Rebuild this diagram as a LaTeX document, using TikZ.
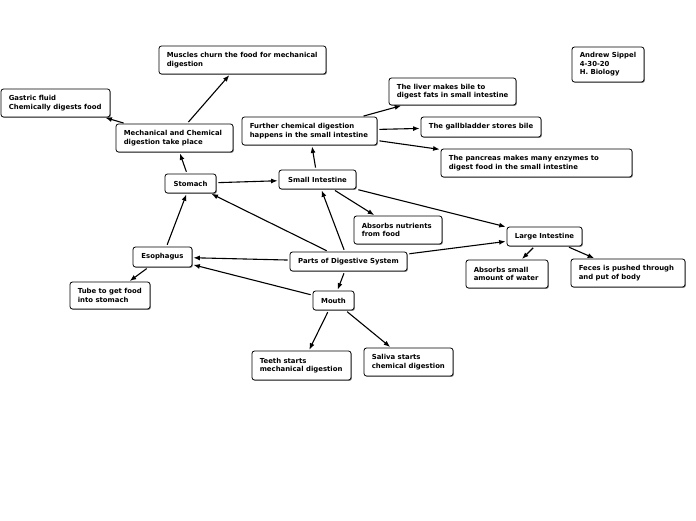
\documentclass[tikz,border=0pt]{standalone}
\usepackage{fontspec}
\setmainfont{DejaVu Sans}
\usetikzlibrary{arrows.meta,shadows}
\tikzset{
  box/.style={draw=black, line width=0.8pt, rounded corners=2.5pt, fill=white,
    inner sep=0pt,
    drop shadow={shadow xshift=0.9pt, shadow yshift=-0.9pt, fill=black!45, opacity=1}},
  label/.style={inner sep=0pt, font=\bfseries\fontsize{6.9}{8.5}\selectfont},
  conn/.style={line width=1.1pt, -{Latex[length=6.5pt,width=5pt]}, shorten >=1pt, shorten <=2pt}
}
% left-aligned box: name, x1, y1, x2, y2, text
\newcommand\lbox[6]{%
  \pgfmathsetmacro\bh{#5-#3}%
  \pgfmathsetmacro\bw{#4-#2}%
  \node[box, minimum height=\bh pt, minimum width=\bw pt] (#1) at ({(#2+#4)/2},{(#3+#5)/2}) {};
  \node[label, align=left, anchor=west] (#1t) at ([xshift=8pt]#1.west) {#6};}
% centred box
\newcommand\cbox[6]{%
  \pgfmathsetmacro\bh{#5-#3}%
  \pgfmathsetmacro\bw{#4-#2}%
  \node[box, minimum height=\bh pt, minimum width=\bw pt] (#1) at ({(#2+#4)/2},{(#3+#5)/2}) {};
  \node[label, align=center] (#1t) at (#1.center) {#6};}
\begin{document}
\begin{tikzpicture}[x=1pt,y=-1pt]
\useasboundingbox (0,0) rectangle (696,520);
\lbox{muscles}{159}{46}{326}{74}{Muscles churn the food for mechanical\\digestion}
\lbox{gastric}{1}{89}{110}{117}{Gastric fluid\\Chemically digests food}
\lbox{mech}{116}{124}{233}{152}{Mechanical and Chemical\\digestion take place}
\cbox{stomach}{165}{174}{216}{193}{Stomach}
\cbox{small}{279}{170}{356}{189}{Small Intestine}
\lbox{further}{242}{117}{377}{145}{Further chemical digestion\\happens in the small intestine}
\lbox{liver}{389}{78}{516}{105}{The liver makes bile to\\digest fats in small intestine}
\lbox{gall}{421}{117}{541}{137}{The gallbladder stores bile}
\lbox{pancreas}{441}{149}{632}{177}{The pancreas makes many enzymes to\\digest food in the small intestine}
\lbox{nutrients}{354}{216}{442}{244}{Absorbs nutrients\\from food}
\cbox{esoph}{133}{247}{192}{267}{Esophagus}
\cbox{parts}{290}{252}{407}{271}{Parts of Digestive System}
\cbox{large}{507}{227}{582}{246}{Large Intestine}
\lbox{water}{466}{260}{548}{288}{Absorbs small\\amount of water}
\lbox{feces}{571}{259}{685}{287}{Feces is pushed through\\and put of body}
\lbox{tube}{70}{282}{150}{309}{Tube to get food\\into stomach}
\cbox{mouth}{313}{291}{354}{310}{Mouth}
\lbox{teeth}{252}{351}{351}{380}{Teeth starts\\mechanical digestion}
\lbox{saliva}{364}{348}{453}{376}{Saliva starts\\chemical digestion}
\lbox{author}{572}{47}{644}{82}{Andrew Sippel\\4-30-20\\H. Biology}

\draw[conn] (mech) -- (muscles);
\draw[conn] (mech) -- (gastric);
\draw[conn] (stomach) -- (mech);
\draw[conn] (stomach) -- (small);
\draw[conn] (small) -- (further);
\draw[conn] (further) -- (liver);
\draw[conn] (further) -- (gall);
\draw[conn] (further) -- (pancreas);
\draw[conn] (small) -- (nutrients);
\draw[conn] (small) -- (large);
\draw[conn] (esoph) -- (stomach);
\draw[conn] (esoph) -- (tube);
\draw[conn] (parts) -- (stomach);
\draw[conn] (parts) -- (small);
\draw[conn] (parts) -- (esoph);
\draw[conn] (parts) -- (large);
\draw[conn] (parts) -- (mouth);
\draw[conn] (mouth) -- (esoph);
\draw[conn] (mouth) -- (teeth);
\draw[conn] (mouth) -- (saliva);
\draw[conn] (large) -- (water);
\draw[conn] (large) -- (feces);
\end{tikzpicture}
\end{document}
